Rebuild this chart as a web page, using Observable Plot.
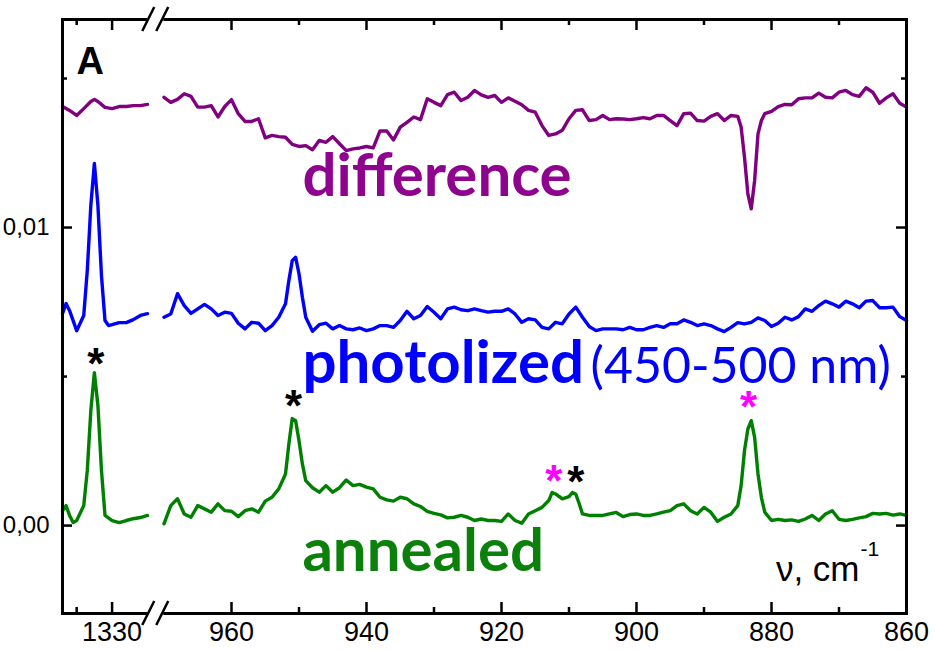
<!DOCTYPE html>
<html>
<head>
<meta charset="utf-8">
<script src="https://cdn.jsdelivr.net/npm/d3@7"></script>
<script src="https://cdn.jsdelivr.net/npm/@observablehq/plot@0.6"></script>
<style>
  html, body { margin: 0; padding: 0; background: #ffffff; }
  #chart { width: 935px; height: 650px; overflow: hidden; }
</style>
</head>
<body>
<div id="chart"></div>
<script>
// ---- data: [wavenumber (cm^-1), absorbance x 1000 as plotted (offsets included)] ----
const differenceSpectrum = [
  [1337,14.06],[1336,13.93],[1335,13.76],[1334,13.99],[1333,14.23],[1332.5,14.30],[1332,14.23],[1331,14.03],
  [1330,13.99],[1329,14.06],[1328,14.06],[1327,14.09],[1326,14.09],[1325,14.13],
  [970,14.37],[969,14.20],[968,14.30],[967,14.49],[966,14.40],[965,14.04],[964,14.04],[963,14.09],[962,13.71],
  [961,14.06],[960,14.29],[959,13.82],[958,13.56],[957,13.56],[956,13.65],[955,13.01],[954,13.09],[953,13.05],
  [952,13.03],[951,12.79],[950,12.72],[949,12.75],[948,12.61],[947,12.92],[946,12.86],[945,13.05],[944,12.81],
  [943,12.58],[942,12.64],[941,12.67],[940,12.72],[939,12.67],[938,13.24],[937,13.24],[936,12.94],[935,13.37],
  [934,13.53],[933,13.71],[932,13.62],[931,14.32],[930,14.20],[929,14.09],[928,14.46],[927,14.54],[926,14.26],
  [925,14.37],[924,14.60],[923,14.45],[922,14.37],[921,14.43],[920,14.20],[919,14.35],[918,14.24],[917,14.12],
  [916,13.93],[915,13.87],[914,13.42],[913,13.09],[912,13.14],[911,13.26],[910,13.65],[909,13.93],[908,13.95],
  [907,13.59],[906,13.62],[905,13.76],[904,13.62],[903,13.65],[902,13.64],[901,13.62],[900,13.65],[899,13.69],
  [898,13.65],[897,13.76],[896,13.76],[895,13.59],[894,13.42],[893,13.82],[892,13.84],[891,13.59],[890,13.57],
  [889,13.73],[888,13.82],[887,13.59],[886,13.76],[885,13.73],[884.5,13.37],[884,12.36],[883.5,11.13],[883,10.63],
  [882.5,11.58],[882,13.14],[881.5,13.59],[881,13.82],[880,13.90],[879,14.06],[878,14.13],[877,14.12],[876,14.32],
  [875,14.35],[874,14.35],[873,14.51],[872,14.37],[871,14.35],[870,14.54],[869,14.60],[868,14.46],[867,14.40],
  [866,14.69],[865,14.54],[864,14.17],[863,14.35],[862,14.49],[861,14.17],[860,14.04]
];
const photolizedSpectrum = [
  [1337,7.11],[1336.5,7.45],[1336,7.21],[1335,6.54],[1334,7.05],[1333.5,8.56],[1333,10.74],[1332.5,12.15],
  [1332,10.74],[1331.5,8.39],[1331,6.88],[1330.5,6.71],[1330,6.74],[1329,6.81],[1328,6.81],[1327,6.91],
  [1326,7.05],[1325,7.11],
  [970,6.99],[969,7.10],[968,7.78],[967,7.38],[966,7.12],[965,7.27],[964,7.42],[963,7.27],[962,7.05],[961,7.16],
  [960,7.12],[959,6.79],[958,6.60],[957,6.82],[956,6.79],[955,6.54],[954,6.71],[953,6.99],[952,7.44],[951.5,8.22],
  [951,8.89],[950.5,9.00],[950,8.45],[949.5,7.66],[949,6.99],[948,6.52],[947,6.74],[946,6.79],[945,6.60],[944,6.71],
  [943,6.60],[942,6.57],[941,6.63],[940,6.54],[939,6.60],[938,6.71],[937,6.71],[936,6.65],[935,6.88],[934,7.19],
  [933,6.94],[932,7.05],[931,7.35],[930,7.16],[929,6.94],[928,7.27],[927,7.33],[926,7.24],[925,7.21],[924,7.27],
  [923,7.21],[922,7.16],[921,7.19],[920,7.19],[919,7.27],[918,7.10],[917,6.82],[916,6.94],[915,6.90],[914,6.65],
  [913,6.60],[912,6.82],[911,6.77],[910,7.10],[909,7.33],[908,6.99],[907,6.68],[906,6.54],[905,6.60],[904,6.60],
  [903,6.60],[902,6.57],[901,6.65],[900,6.57],[899,6.57],[898,6.65],[897,6.71],[896,6.65],[895,6.77],[894,6.77],
  [893,6.90],[892,6.82],[891,6.71],[890,6.77],[889,6.71],[888,6.60],[887,6.51],[886,6.65],[885,6.81],[884,6.77],
  [883,6.82],[882,6.97],[881,6.88],[880,6.68],[879,6.79],[878,6.99],[877,6.90],[876,7.01],[875,7.27],[874,7.19],
  [873,7.38],[872,7.53],[871,7.44],[870,7.33],[869,7.53],[868,7.44],[867,7.31],[866,7.53],[865,7.55],[864,7.31],
  [863,7.31],[862,7.33],[861,7.01],[860,6.88]
];
const annealedSpectrum = [
  [1337,0.50],[1336.5,0.67],[1336,0.34],[1335.5,0.10],[1335,0.17],[1334,0.67],[1333.5,1.85],[1333,3.86],
  [1332.5,5.13],[1332,4.03],[1331.5,1.85],[1331,0.34],[1330,0.17],[1329,0.10],[1328,0.17],[1327,0.23],
  [1326,0.27],[1325,0.34],
  [970,0.06],[969,0.67],[968,0.90],[967,0.39],[966,0.28],[965,0.67],[964,0.56],[963,0.45],[962,0.73],[961,0.50],
  [960,0.48],[959,0.30],[958,0.50],[957,0.56],[956,0.45],[955,0.82],[954,0.95],[953,1.23],[952,1.73],[951.5,2.74],
  [951,3.59],[950.5,3.52],[950,2.85],[949.5,2.07],[949,1.51],[948,1.27],[947,1.12],[946,1.34],[945,1.12],[944,1.27],
  [943,1.53],[942,1.34],[941,1.38],[940,1.29],[939,1.23],[938,0.95],[937,0.86],[936,0.82],[935,0.95],[934,0.90],
  [933,0.73],[932,0.64],[931,0.48],[930,0.41],[929,0.36],[928,0.26],[927,0.28],[926,0.34],[925,0.28],[924,0.17],
  [923,0.22],[922,0.17],[921,0.17],[920,0.14],[919,0.39],[918,0.17],[917,0.08],[916,0.39],[915,0.50],[914,0.61],
  [913,0.84],[912.5,1.11],[912,1.06],[911,0.90],[910,0.97],[909.5,1.11],[909,1.06],[908.5,0.74],[908,0.39],
  [907,0.34],[906,0.34],[905,0.34],[904,0.39],[903,0.44],[902,0.30],[901,0.37],[900,0.39],[899,0.34],[898,0.34],
  [897,0.39],[896,0.45],[895,0.50],[894,0.67],[893,0.73],[892,0.50],[891,0.39],[890,0.61],[889,0.45],[888,0.14],
  [887,0.28],[886,0.39],[885,0.67],[884.5,1.34],[884,2.52],[883.5,3.24],[883,3.52],[882.5,2.96],[882,1.73],
  [881.5,0.95],[881,0.45],[880,0.17],[879,0.21],[878,0.17],[877,0.19],[876,0.14],[875,0.22],[874,0.34],[873,0.17],
  [872,0.39],[871,0.50],[870,0.21],[869,0.17],[868,0.21],[867,0.26],[866,0.30],[865,0.41],[864,0.39],[863,0.41],
  [862,0.35],[861,0.39],[860,0.34]
];

// axis ticks and labels
const xSegmentDomain = [1337, 1325, 970, 860];      // broken axis: left piece, right piece
const xMajorTicks = [1330, 960, 940, 920, 900, 880, 860];
const xMinorTicks = [1335, 950, 930, 910, 890, 870];
const yDomain = [-2.95, 16.98];
const yMajorTicks = [0, 10];
const yMinorTicks = [5, 15];
const yTickLabels = {0: "0,00", 10: "0,01"};

// curve labels
const curveNames = ["difference", "photolized", "annealed"];
const curveColors = ["#800080", "#0000ff", "#008000"];
const labelColors = ["#8f048f", "#0000ff", "#0b800b"];
const labelNu = [949.5, 949.5, 949.5];
const labelBaseline = [11.07, 4.77, -1.54];
const noteText = ["(450-500 nm)"];
const noteNu = [906.8];
const noteBaseline = [4.77];

// peak markers
const starNu = [1332.3, 950.8, 909.0, 912.25, 883.4];
const starLevel = [5.76, 4.36, 1.79, 1.85, 4.33];
const starColors = ["#000000", "#000000", "#000000", "#ff00ff", "#ff00ff"];

// ---- build tables ----
const toRows = (arr, name) => arr.map(([nu, a]) => ({nu, a, name, part: nu > 1100 ? "left" : "right"}));
const spectra = [differenceSpectrum, photolizedSpectrum, annealedSpectrum];
const labelRows = curveNames.map((t, i) => ({text: t, nu: labelNu[i], y: labelBaseline[i], color: labelColors[i]}));
const noteRows = noteText.map((t, i) => ({text: t, nu: noteNu[i], y: noteBaseline[i]}));
const starRows = starNu.map((nu, i) => ({nu, y: starLevel[i], color: starColors[i]}));

const W = 935, H = 650;
const mL = 62, mR = 29, mT = 19, mB = 37;
const frameW = W - mL - mR, frameH = H - mT - mB;
// piecewise pixel range for the broken axis
const xRange = [mL, 147, 163.5, W - mR];

const tk = {stroke: "black", strokeWidth: 2.5};
const majorLen = 11, minorLen = 6;

function breakMarks(index, scales, values, dimensions) {
  const c = (scales.x(1325) + scales.x(970)) / 2;
  const yTop = dimensions.marginTop;
  const yBot = dimensions.height - dimensions.marginBottom;
  const g = d3.create("svg:g");
  for (const y0 of [yTop, yBot]) {
    g.append("rect").attr("x", c - 8).attr("y", y0 - 3).attr("width", 16).attr("height", 6).attr("fill", "white");
    for (const off of [-7, 7]) {
      g.append("line")
        .attr("x1", c + off - 6).attr("y1", y0 + 12)
        .attr("x2", c + off + 6).attr("y2", y0 - 12)
        .attr("stroke", "black").attr("stroke-width", 2.5);
    }
  }
  return g.node();
}

const chart = Plot.plot({
  width: W, height: H,
  marginLeft: mL, marginRight: mR, marginTop: mT, marginBottom: mB,
  x: {type: "linear", domain: xSegmentDomain, range: xRange},
  y: {domain: yDomain},
  color: {type: "identity"},
  style: {fontFamily: "'Liberation Sans', Arial, sans-serif", background: "white", overflow: "visible"},
  marks: [
    ...spectra.map((s, i) => Plot.line(toRows(s, curveNames[i]), {
      x: "nu", y: "a", z: "part", stroke: curveColors[i], strokeWidth: 3.4, strokeLinejoin: "round"
    })),
    Plot.frame({stroke: "black", strokeWidth: 3}),
    // inward ticks on all four sides
    Plot.tickX(xMajorTicks, {x: d => d, insetTop: frameH - majorLen, ...tk}),
    Plot.tickX(xMinorTicks, {x: d => d, insetTop: frameH - minorLen, ...tk}),
    Plot.tickX(xMajorTicks, {x: d => d, insetBottom: frameH - majorLen, ...tk}),
    Plot.tickX(xMinorTicks, {x: d => d, insetBottom: frameH - minorLen, ...tk}),
    Plot.tickY(yMajorTicks, {y: d => d, insetRight: frameW - 10, ...tk}),
    Plot.tickY(yMinorTicks, {y: d => d, insetRight: frameW - 5, ...tk}),
    Plot.tickY(yMajorTicks, {y: d => d, insetLeft: frameW - 10, ...tk}),
    Plot.tickY(yMinorTicks, {y: d => d, insetLeft: frameW - 5, ...tk}),
    breakMarks,
    Plot.axisX({ticks: xMajorTicks, tickSize: 0, tickPadding: 8, tickFormat: d => String(d), fontSize: 27, label: null, fill: "black"}),
    Plot.axisY({ticks: yMajorTicks, tickSize: 0, tickPadding: 13, tickFormat: d => yTickLabels[d], fontSize: 24, label: null, fill: "black"}),
    Plot.text(labelRows, {x: "nu", y: "y", text: "text", fill: "color", textAnchor: "start", lineAnchor: "bottom",
      fontFamily: "Lato, 'Open Sans', sans-serif", fontWeight: "bold", fontSize: 60}),
    Plot.text(noteRows, {x: "nu", y: "y", text: "text", fill: "#0000ff", textAnchor: "start", lineAnchor: "bottom",
      fontFamily: "Lato, 'Open Sans', sans-serif", fontSize: 50}),
    Plot.text(starRows, {x: "nu", y: "y", text: () => "*", fill: "color", textAnchor: "middle", lineAnchor: "middle",
      fontWeight: "bold", fontSize: 44, dy: 11}),
    Plot.text(["A"], {frameAnchor: "top-left", dx: 14, dy: 54, textAnchor: "start", lineAnchor: "bottom",
      fontWeight: "bold", fontSize: 38, fill: "black"}),
    Plot.text(["ν, cm"], {frameAnchor: "bottom-right", dx: -47, dy: -33, textAnchor: "end", lineAnchor: "bottom",
      fontSize: 35, fill: "black"}),
    Plot.text(["-1"], {frameAnchor: "bottom-right", dx: -46, dy: -58, textAnchor: "start", lineAnchor: "bottom",
      fontSize: 21, fill: "black"})
  ]
});
document.getElementById("chart").appendChild(chart);
</script>
</body>
</html>
